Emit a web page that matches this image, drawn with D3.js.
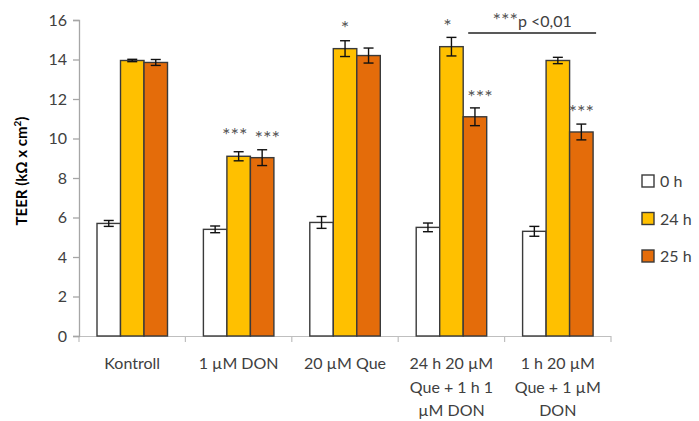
<!DOCTYPE html>
<html><head><meta charset="utf-8">
<script src="https://cdn.jsdelivr.net/npm/d3@7"></script>
<style>body{margin:0;background:#fff;}svg{display:block;font-family:Lato,"Open Sans",sans-serif;}</style>
</head><body><svg id="c" width="699" height="421"></svg>
<script>
const categories = ["Kontroll","1 µM DON","20 µM Que","24 h 20 µM Que + 1 h 1 µM DON","1 h 20 µM Que + 1 µM DON"];
const categoryLines = [["Kontroll"],["1 µM DON"],["20 µM Que"],["24 h 20 µM","Que + 1 h 1","µM DON"],["1 h 20 µM","Que + 1 µM","DON"]];
const series = ["0 h","24 h","25 h"];
const values0h = [5.7, 5.4, 5.75, 5.5, 5.3];
const values24h = [13.95, 9.1, 14.55, 14.65, 13.95];
const values25h = [13.85, 9.03, 14.2, 11.1, 10.33];
const err0h = [0.15, 0.17, 0.3, 0.22, 0.25];
const err24h = [0.06, 0.23, 0.4, 0.47, 0.16];
const err25h = [0.15, 0.4, 0.38, 0.45, 0.4];
const stars24h = ["", "***", "*", "*", ""];
const stars25h = ["", "***", "", "***", "***"];
const yTicks = [0,2,4,6,8,10,12,14,16];
const colors = ["#FFFFFF","#FFC000","#E46C0A"];

(function(){
const svg = d3.select("#c");
const mLeft = 79, mRight = 611, mTop = 20, mBottom = 336;
const y = d3.scaleLinear().domain([0,16]).range([mBottom, mTop]);
const x0 = d3.scaleBand().domain(categories).range([mLeft, mRight]);
const x1 = d3.scaleBand().domain(series).range([18, 88.5]);

const vals = [values0h, values24h, values25h];
const errs = [err0h, err24h, err25h];
const data = [];
categories.forEach((c,i)=>series.forEach((s,j)=>data.push({c, s, j, v: vals[j][i], e: errs[j][i]})));

// x axis
svg.append("line").attr("x1", mLeft).attr("x2", mRight).attr("y1", mBottom+0.5).attr("y2", mBottom+0.5).attr("stroke","#bfbfbf").attr("stroke-width",1.2);
[...categories.map(c=>x0(c)), mRight].forEach(xv=>{
  svg.append("line").attr("x1", xv).attr("x2", xv).attr("y1", mBottom).attr("y2", mBottom+6).attr("stroke","#bfbfbf").attr("stroke-width",1.2);
});

// y axis
const yAxis = svg.append("g").attr("transform", `translate(${mLeft},0)`)
  .call(d3.axisLeft(y).tickValues(yTicks).tickSize(6).tickPadding(6));
yAxis.select(".domain").attr("stroke","#a6a6a6").attr("stroke-width",1.3);
yAxis.selectAll(".tick line").attr("stroke","#a6a6a6").attr("stroke-width",1.3);
yAxis.selectAll(".tick text").attr("font-size",16).attr("fill","#404040").attr("font-family","Lato, 'Open Sans', sans-serif");

// bars
svg.append("g").selectAll("rect").data(data).join("rect")
  .attr("x", d=>x0(d.c)+x1(d.s)).attr("width", x1.bandwidth())
  .attr("y", d=>y(d.v)).attr("height", d=>y(0)-y(d.v))
  .attr("fill", d=>colors[d.j]).attr("stroke","#3a3a3a").attr("stroke-width",1.4);

// error bars
const eg = svg.append("g").attr("stroke","#111").attr("stroke-width",1.4);
data.forEach(d=>{
  const cx = x0(d.c)+x1(d.s)+x1.bandwidth()/2;
  eg.append("line").attr("x1",cx).attr("x2",cx).attr("y1",y(d.v+d.e)).attr("y2",y(d.v-d.e));
  eg.append("line").attr("x1",cx-5).attr("x2",cx+5).attr("y1",y(d.v+d.e)).attr("y2",y(d.v+d.e));
  eg.append("line").attr("x1",cx-5).attr("x2",cx+5).attr("y1",y(d.v-d.e)).attr("y2",y(d.v-d.e));
});

// stars
const sg = svg.append("g").attr("font-size",20).attr("fill","#555").attr("text-anchor","middle");
categories.forEach((c,i)=>{
  const both = stars24h[i] && stars25h[i];
  if (stars24h[i]) sg.append("text").attr("x", x0(c)+x1("24 h")+x1.bandwidth()/2 - (both?4:0)).attr("y", y(values24h[i]) - 14).text(stars24h[i]);
  if (stars25h[i]) sg.append("text").attr("x", x0(c)+x1("25 h")+x1.bandwidth()/2 + (both?5:0)).attr("y", y(values25h[i]) - 13).text(stars25h[i]);
});

// bracket
const bx1 = x0(categories[3])+x1("25 h")+5, bx2 = x0(categories[4])+x1("25 h")+x1.bandwidth()+3;
svg.append("line").attr("x1", bx1).attr("x2", bx2).attr("y1", 33).attr("y2", 33).attr("stroke","#222").attr("stroke-width",1.4);
const bt = svg.append("text").attr("x", (bx1+bx2)/2).attr("y", 27).attr("text-anchor","middle").attr("font-size",16).attr("fill","#404040");
bt.append("tspan").attr("font-size",20).attr("fill","#555").text("***");
bt.append("tspan").text("p <0,01");

// x labels
categories.forEach((c,i)=>{
  const t = svg.append("text").attr("text-anchor","middle").attr("font-size",16).attr("fill","#404040");
  categoryLines[i].forEach((ln,k)=>t.append("tspan").attr("x", x0(c)+x0.bandwidth()/2).attr("y", 369 + k*23.5).text(ln));
});

// y title
const yt = svg.append("text").attr("transform","translate(27,171) rotate(-90)").attr("text-anchor","middle")
  .attr("font-size",15).attr("font-weight","bold").attr("fill","#000");
yt.append("tspan").text("TEER  (kΩ x cm");
yt.append("tspan").attr("font-size",10).attr("dy",-6).text("2");
yt.append("tspan").attr("dy",6).text(")");

// legend
const lg = svg.append("g");
series.forEach((s,j)=>{
  const ly = 181 + j*37.5;
  lg.append("rect").attr("x",642).attr("y",ly-6).attr("width",12).attr("height",12).attr("fill",colors[j]).attr("stroke","#3a3a3a").attr("stroke-width",1.4);
  lg.append("text").attr("x",660).attr("y",ly+6).attr("font-size",16).attr("fill","#404040").text(s);
});
})();
</script></body></html>
